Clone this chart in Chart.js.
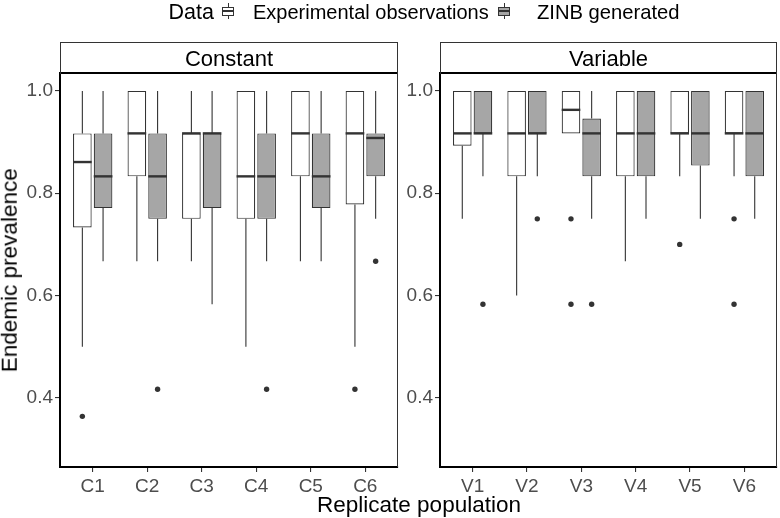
<!DOCTYPE html>
<html><head><meta charset="utf-8">
<script src="https://cdn.jsdelivr.net/npm/chart.js@4"></script>
<style>
html,body{margin:0;padding:0;background:#fff;}
body{width:780px;height:518px;position:relative;overflow:hidden;font-family:"Liberation Sans",Arial,sans-serif;color:#000;}
.abs{position:absolute;white-space:nowrap;}
canvas{position:absolute;top:0;}
.strip{position:absolute;top:41.5px;height:32px;border:1px solid #333;border-bottom:none;box-sizing:border-box;}
.stripText{position:absolute;font-size:22px;line-height:22px;text-align:center;top:48px;}
.key{position:absolute;top:3px;width:12px;height:16px;}
.key .wh{position:absolute;left:5.5px;top:0;width:1px;height:16px;background:#333;}
.key .bx{position:absolute;left:0;top:3.5px;width:12px;height:9.5px;border:1px solid #333;box-sizing:border-box;}
.key .md{position:absolute;left:0;top:7.4px;width:12px;height:1.6px;background:#333;}
</style>
</head><body>

<canvas id="cL" width="420" height="518" style="left:0px"></canvas>
<canvas id="cR" width="380" height="518" style="left:400px"></canvas>

<div class="strip" style="left:60px;width:338px"></div>
<div class="strip" style="left:440px;width:337px"></div>
<div class="stripText" style="left:60px;width:338px">Constant</div>
<div class="stripText" style="left:440px;width:337px">Variable</div>

<div class="abs" style="left:114px;width:100px;text-align:right;top:1.5px;font-size:21.5px;line-height:21.5px;">Data</div>
<div class="key" style="left:222px"><div class="wh"></div><div class="bx" style="background:#FFFFFF"></div><div class="md"></div></div>
<div class="abs" style="left:253px;top:2px;font-size:20px;line-height:20px;">Experimental observations</div>
<div class="key" style="left:498px"><div class="wh"></div><div class="bx" style="background:#A6A6A6"></div><div class="md"></div></div>
<div class="abs" style="left:537px;top:2px;font-size:20.2px;line-height:20.2px;">ZINB generated</div>

<div class="abs" style="left:0;width:838px;text-align:center;top:493.5px;font-size:22.5px;line-height:22.5px;">Replicate population</div>
<div class="abs" style="left:-189.75px;width:400px;text-align:center;top:258.75px;font-size:22.5px;line-height:22.5px;transform:rotate(-90deg);transform-origin:200px 11.25px;">Endemic prevalence</div>

<script>
// ---------- data ----------
const categoriesConstant = ['C1','C2','C3','C4','C5','C6'];
const categoriesVariable = ['V1','V2','V3','V4','V5','V6'];
const yTickValues = [0.4, 0.6, 0.8, 1.0];
const seriesNames = ['Experimental observations', 'ZINB generated'];

// Constant – experimental observations
const constExpLow      = [0.500, 0.667, 0.667, 0.500, 0.667, 0.500];
const constExpQ1       = [0.733, 0.833, 0.750, 0.750, 0.833, 0.778];
const constExpMedian   = [0.861, 0.917, 0.917, 0.833, 0.917, 0.917];
const constExpQ3       = [0.917, 1.000, 0.917, 1.000, 1.000, 1.000];
const constExpHigh     = [1.000, 1.000, 1.000, 1.000, 1.000, 1.000];
const constExpOutliers = [[0.364], [], [], [], [], [0.417]];

// Constant – ZINB generated
const constZinbLow      = [0.667, 0.667, 0.583, 0.667, 0.667, 0.750];
const constZinbQ1       = [0.771, 0.750, 0.771, 0.750, 0.771, 0.833];
const constZinbMedian   = [0.833, 0.833, 0.917, 0.833, 0.833, 0.908];
const constZinbQ3       = [0.917, 0.917, 0.917, 0.917, 0.917, 0.917];
const constZinbHigh     = [1.000, 1.000, 1.000, 1.000, 1.000, 1.000];
const constZinbOutliers = [[], [0.417], [], [0.417], [], [0.667]];

// Variable – experimental observations
const varExpLow      = [0.750, 0.600, 0.917, 0.667, 0.833, 0.833];
const varExpQ1       = [0.893, 0.833, 0.917, 0.833, 0.917, 0.917];
const varExpMedian   = [0.917, 0.917, 0.963, 0.917, 0.917, 0.917];
const varExpQ3       = [1.000, 1.000, 1.000, 1.000, 1.000, 1.000];
const varExpHigh     = [1.000, 1.000, 1.000, 1.000, 1.000, 1.000];
const varExpOutliers = [[], [], [0.750, 0.583], [], [0.700], [0.750, 0.583]];

// Variable – ZINB generated
const varZinbLow      = [0.833, 0.833, 0.750, 0.750, 0.750, 0.750];
const varZinbQ1       = [0.917, 0.917, 0.833, 0.833, 0.854, 0.833];
const varZinbMedian   = [0.917, 0.917, 0.917, 0.917, 0.917, 0.917];
const varZinbQ3       = [1.000, 1.000, 0.946, 1.000, 1.000, 1.000];
const varZinbHigh     = [1.000, 1.000, 1.000, 1.000, 1.000, 1.000];
const varZinbOutliers = [[0.583], [0.750], [0.583], [], [], []];

// ---------- styling ----------
const FONT = '"Liberation Sans", Arial, sans-serif';
const BOX_LINE = '#333333';
const FILLS = ['#FFFFFF', '#A6A6A6'];

const boxPlugin = {
  id: 'boxParts',
  beforeDatasetsDraw(chart) {
    const ctx = chart.ctx, y = chart.scales.y;
    ctx.save();
    ctx.strokeStyle = BOX_LINE; ctx.lineWidth = 1.1;
    chart.data.datasets.forEach((ds, di) => {
      const meta = chart.getDatasetMeta(di);
      meta.data.forEach((el, i) => {
        const s = ds.stats;
        const x = el.x;
        ctx.beginPath();
        ctx.moveTo(x, y.getPixelForValue(ds.data[i].y[1]));
        ctx.lineTo(x, y.getPixelForValue(s.hi[i]));
        ctx.moveTo(x, y.getPixelForValue(ds.data[i].y[0]));
        ctx.lineTo(x, y.getPixelForValue(s.lo[i]));
        ctx.stroke();
      });
    });
    ctx.restore();
  },
  afterDatasetsDraw(chart) {
    const ctx = chart.ctx, y = chart.scales.y;
    ctx.save();
    chart.data.datasets.forEach((ds, di) => {
      const meta = chart.getDatasetMeta(di);
      meta.data.forEach((el, i) => {
        const s = ds.stats;
        const x = el.x, w = el.width;
        ctx.strokeStyle = BOX_LINE; ctx.lineWidth = 2.4;
        const ym = y.getPixelForValue(s.med[i]);
        ctx.beginPath(); ctx.moveTo(x - w / 2, ym); ctx.lineTo(x + w / 2, ym); ctx.stroke();
        ctx.fillStyle = BOX_LINE;
        s.out[i].forEach(v => {
          ctx.beginPath(); ctx.arc(x, y.getPixelForValue(v), 2.7, 0, Math.PI * 2); ctx.fill();
        });
      });
    });
    ctx.restore();
  },
  afterDraw(chart) {
    const ctx = chart.ctx, a = chart.chartArea;
    ctx.save();
    ctx.strokeStyle = '#333333'; ctx.lineWidth = 1;
    ctx.beginPath(); ctx.moveTo(a.right - 0.5, a.top); ctx.lineTo(a.right - 0.5, a.bottom); ctx.stroke();
    ctx.strokeStyle = '#000000'; ctx.lineWidth = 2;
    ctx.beginPath(); ctx.moveTo(a.left - 1, a.top); ctx.lineTo(a.right, a.top); ctx.stroke();
    ctx.restore();
  }
};

function makePanel(id, cats, exp, zinb, yAxisWidth, padRight) {
  const series = [exp, zinb];
  new Chart(document.getElementById(id), {
    type: 'bar',
    data: {
      datasets: series.map((s, k) => ({
        label: seriesNames[k],
        data: cats.map((c, i) => ({ x: i, y: [s.q1[i], s.q3[i]] })),
        stats: s,
        backgroundColor: FILLS[k],
        borderColor: BOX_LINE,
        borderWidth: 1.2,
        borderSkipped: false,
        categoryPercentage: 0.76,
        barPercentage: 0.9
      }))
    },
    options: {
      responsive: false,
      animation: false,
      devicePixelRatio: 1,
      layout: { padding: { top: 73, right: padRight, bottom: 0, left: 0 } },
      plugins: { legend: { display: false }, tooltip: { enabled: false } },
      scales: {
        x: {
          type: 'linear', min: -0.6, max: cats.length - 0.4, offset: false,
          afterBuildTicks: sc => { sc.ticks = cats.map((c, i) => ({ value: i })); },
          ticks: { callback: v => cats[v], font: { size: 19, family: FONT }, color: '#4D4D4D',
                   padding: 3, autoSkip: false, maxRotation: 0 },
          grid: { offset: false, drawOnChartArea: false, drawTicks: true, tickLength: 5, color: '#333333', lineWidth: 1.1 },
          border: { display: true, color: '#000000', width: 2 },
          afterFit: sc => { sc.height = 51; }
        },
        y: {
          type: 'linear', min: 0.265, max: 1.035,
          afterBuildTicks: sc => { sc.ticks = yTickValues.map(v => ({ value: v })); },
          ticks: { callback: v => Number(v).toFixed(1), font: { size: 19, family: FONT }, color: '#4D4D4D', padding: 2 },
          grid: { drawOnChartArea: false, drawTicks: true, tickLength: 5, color: '#333333', lineWidth: 1.1 },
          border: { display: true, color: '#000000', width: 2 },
          afterFit: sc => { sc.width = yAxisWidth; }
        }
      }
    },
    plugins: [boxPlugin]
  });
}

makePanel('cL', categoriesConstant,
  { lo: constExpLow, q1: constExpQ1, med: constExpMedian, q3: constExpQ3, hi: constExpHigh, out: constExpOutliers },
  { lo: constZinbLow, q1: constZinbQ1, med: constZinbMedian, q3: constZinbQ3, hi: constZinbHigh, out: constZinbOutliers },
  60, 22);
makePanel('cR', categoriesVariable,
  { lo: varExpLow, q1: varExpQ1, med: varExpMedian, q3: varExpQ3, hi: varExpHigh, out: varExpOutliers },
  { lo: varZinbLow, q1: varZinbQ1, med: varZinbMedian, q3: varZinbQ3, hi: varZinbHigh, out: varZinbOutliers },
  40, 3);
</script>
</body></html>
